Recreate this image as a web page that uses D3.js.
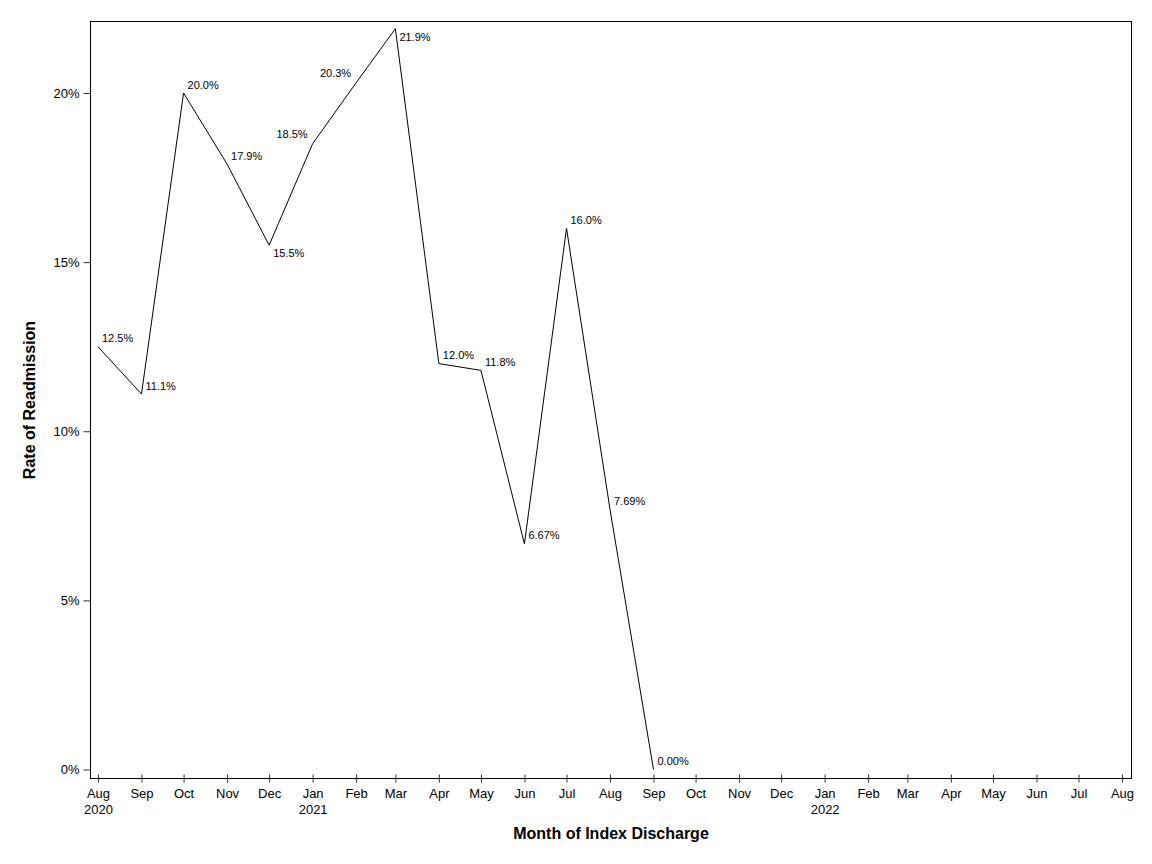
<!DOCTYPE html>
<html>
<head>
<meta charset="utf-8">
<script src="https://cdn.jsdelivr.net/npm/d3@7"></script>
<style>
  body { margin: 0; background: white; }
  svg { display: block; font-family: "Liberation Sans", Arial, sans-serif; }
</style>
</head>
<body>
<div id="chart"></div>
<script>
// monthly readmission rates, one point per month of index discharge
const months = ["2020-08", "2020-09", "2020-10", "2020-11", "2020-12", "2021-01", "2021-02",
  "2021-03", "2021-04", "2021-05", "2021-06", "2021-07", "2021-08", "2021-09"];
const rates = [0.125, 0.111, 0.200, 0.179, 0.155, 0.185, 0.203,
  0.219, 0.120, 0.118, 0.0667, 0.160, 0.0769, 0.0];
// where each label sits relative to its point
const labelSide = ["E", "E", "E", "E", "SE", "NW", "NW", "SE", "E", "E", "E", "E", "E", "E"];
const yTicks = [0, 0.05, 0.10, 0.15, 0.20];
const axisStart = "2020-08", axisEnd = "2022-08";

const width = 1152, height = 864;
const frame = { left: 90.5, right: 1131.5, top: 21.5, bottom: 778.5 };

const parse = d3.timeParse("%Y-%m");
const data = months.map((m, i) => ({ date: parse(m), rate: rates[i], side: labelSide[i] }));

const x = d3.scaleTime()
  .domain([parse(axisStart), parse(axisEnd)])
  .range([98, 1122]);
const y = d3.scaleLinear()
  .domain([0, 0.2])
  .range([769.5, 93]);

const svg = d3.select("#chart").append("svg")
  .attr("width", width)
  .attr("height", height);

// plot frame
svg.append("rect")
  .attr("x", frame.left).attr("y", frame.top)
  .attr("width", frame.right - frame.left)
  .attr("height", frame.bottom - frame.top)
  .attr("fill", "none").attr("stroke", "black").attr("stroke-width", 1);

// x axis
const monthTicks = d3.timeMonth.range(parse(axisStart), d3.timeMonth.offset(parse(axisEnd), 1));
const xAxis = svg.append("g")
  .attr("transform", `translate(0,${frame.bottom})`)
  .call(d3.axisBottom(x).tickValues(monthTicks).tickFormat(d3.timeFormat("%b"))
    .tickSizeInner(4).tickSizeOuter(0).tickPadding(6));
xAxis.select(".domain").remove();
xAxis.selectAll(".tick line").attr("y1", -4).attr("stroke", "#333");
xAxis.selectAll(".tick text")
  .attr("font-size", 13).attr("font-family", "Liberation Sans, Arial, sans-serif")
  .attr("fill", "black")
  .each(function (d, i) {
    if (i === 0 || (d.getMonth() === 0)) {
      d3.select(this).append("tspan")
        .attr("x", 0).attr("dy", "1.25em")
        .text(d3.timeFormat("%Y")(d));
    }
  });

// y axis
const yAxis = svg.append("g")
  .attr("transform", `translate(${frame.left},0)`)
  .call(d3.axisLeft(y).tickValues(yTicks).tickFormat(d3.format(".0%"))
    .tickSize(7).tickPadding(4));
yAxis.select(".domain").remove();
yAxis.selectAll(".tick line").attr("stroke", "#333");
yAxis.selectAll(".tick text")
  .attr("font-size", 13).attr("font-family", "Liberation Sans, Arial, sans-serif")
  .attr("fill", "black");

// line
const line = d3.line().x(d => x(d.date)).y(d => y(d.rate));
svg.append("path")
  .datum(data)
  .attr("d", line)
  .attr("fill", "none")
  .attr("stroke", "black")
  .attr("stroke-width", 1);

// point labels
const fmt = d3.format(".3p");
svg.append("g").selectAll("text")
  .data(data)
  .join("text")
  .attr("font-size", 11)
  .attr("x", d => d.side === "NW" ? x(d.date) - 5 : x(d.date) + 4)
  .attr("y", d => d.side === "SE" ? y(d.rate) + 12 : d.side === "NW" ? y(d.rate) - 6 : y(d.rate) - 4.5)
  .attr("text-anchor", d => d.side === "NW" ? "end" : "start")
  .text(d => fmt(d.rate));

// axis titles
svg.append("text")
  .attr("x", (frame.left + frame.right) / 2)
  .attr("y", 839)
  .attr("text-anchor", "middle")
  .attr("font-size", 16).attr("font-weight", "bold")
  .text("Month of Index Discharge");

svg.append("text")
  .attr("transform", `translate(35,${(frame.top + frame.bottom) / 2}) rotate(-90)`)
  .attr("text-anchor", "middle")
  .attr("font-size", 16).attr("font-weight", "bold")
  .text("Rate of Readmission");
</script>
</body>
</html>
